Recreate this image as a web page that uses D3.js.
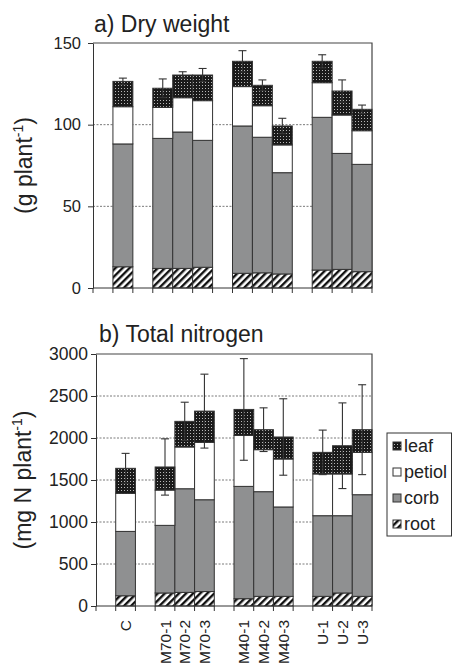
<!DOCTYPE html>
<html>
<head>
<meta charset="utf-8">
<script src="https://cdn.jsdelivr.net/npm/d3@7"></script>
<style>
  body { margin: 0; background: #fff; }
  svg { display: block; font-family: "Liberation Sans", Arial, sans-serif; }
  .tick text { fill: #222; }
  .axis path, .axis line { stroke: #333; }
</style>
</head>
<body>
<script>
// treatments, grouped (a blank slot separates groups)
var groups = [["C"], ["M70-1", "M70-2", "M70-3"], ["M40-1", "M40-2", "M40-3"], ["U-1", "U-2", "U-3"]];
var parts = ["root", "corb", "petiol", "leaf"];

// a) dry weight, g plant-1 (per component)
var dwRoot   = [13.0, 12.0, 12.0, 12.7, 9.0, 9.3, 8.6, 11.0, 11.4, 10.0];
var dwCorb   = [75.2, 79.6, 83.5, 77.7, 90.2, 83.0, 62.0, 93.5, 71.0, 65.7];
var dwPetiol = [22.8, 19.0, 21.0, 24.3, 24.1, 19.3, 17.0, 21.2, 23.5, 20.6];
var dwLeaf   = [15.5, 11.7, 13.9, 15.7, 15.5, 12.5, 11.6, 13.1, 14.7, 13.1];
var dwSd     = [2.0, 5.7, 2.0, 4.0, 6.5, 3.3, 4.7, 4.0, 6.8, 2.6];

// b) total nitrogen, mg N plant-1 (per component)
var tnRoot   = [122, 155, 162, 172, 87, 115, 115, 115, 155, 115];
var tnCorb   = [766, 805, 1234, 1093, 1337, 1246, 1064, 960, 920, 1210];
var tnPetiol = [453, 420, 497, 683, 607, 500, 571, 497, 497, 504];
var tnLeaf   = [298, 275, 305, 372, 309, 238, 262, 257, 336, 270];
var tnSd     = [178, 335, 228, 440, 605, 260, 455, 265, 510, 535];

var dwTicks = [0, 50, 100, 150];
var tnTicks = [0, 500, 1000, 1500, 2000, 2500, 3000];

var W = 452, H = 668;
var svg = d3.select("body").append("svg").attr("width", W).attr("height", H);

// fills
var defs = svg.append("defs");
var lp = defs.append("pattern").attr("id", "leafPat")
    .attr("patternUnits", "userSpaceOnUse").attr("width", 3).attr("height", 3);
lp.append("rect").attr("width", 3).attr("height", 3).attr("fill", "#1a1a1a");
lp.append("rect").attr("x", 1).attr("y", 1).attr("width", 1).attr("height", 1).attr("fill", "#b8b8b8");

var rp = defs.append("pattern").attr("id", "rootPat")
    .attr("patternUnits", "userSpaceOnUse").attr("width", 5).attr("height", 5)
    .attr("patternTransform", "rotate(45)");
rp.append("rect").attr("width", 5).attr("height", 5).attr("fill", "#fff");
rp.append("rect").attr("width", 2.4).attr("height", 5).attr("fill", "#111");

var fills = {root: "url(#rootPat)", corb: "#8f9091", petiol: "#fff", leaf: "url(#leafPat)"};

// slot layout with blanks
var slots = [];
groups.forEach(function(g, i) {
  slots.push("blank" + i);
  g.forEach(function(c) { slots.push(c); });
});
var cats = [].concat.apply([], groups);

function makeRows(root, corb, petiol, leaf, sd) {
  return cats.map(function(c, i) {
    return {cat: c, root: root[i], corb: corb[i], petiol: petiol[i], leaf: leaf[i], sd: sd[i]};
  });
}

function panel(opt) {
  var x = d3.scaleBand().domain(slots).range([opt.left, 372]).padding(0);
  var y = d3.scaleLinear().domain([0, opt.max]).range([opt.bottom, opt.top]);
  var g = svg.append("g");

  // dotted grid
  g.selectAll(".grid").data(opt.ticks.slice(1, -1)).enter().append("line")
    .attr("x1", opt.left).attr("x2", 372)
    .attr("y1", function(d) { return y(d); }).attr("y2", function(d) { return y(d); })
    .attr("stroke", "#7a7a7a").attr("stroke-dasharray", "2,1.5").attr("stroke-width", 1);

  // frame top + right
  g.append("path")
    .attr("d", "M" + opt.left + "," + opt.top + "H372V" + opt.bottom)
    .attr("fill", "none").attr("stroke", "#444").attr("stroke-width", 1.2);

  // bars
  var stack = d3.stack().keys(parts)(opt.rows);
  g.selectAll(".layer").data(stack).enter().append("g")
    .attr("fill", function(d) { return fills[d.key]; })
    .selectAll("rect").data(function(d) { return d; }).enter().append("rect")
      .attr("x", function(d) { return x(d.data.cat); })
      .attr("width", x.bandwidth())
      .attr("y", function(d) { return y(d[1]); })
      .attr("height", function(d) { return y(d[0]) - y(d[1]); })
      .attr("stroke", "#333").attr("stroke-width", 1);

  // error bars
  var eb = g.selectAll(".err").data(opt.rows).enter().append("g")
    .attr("stroke", "#333").attr("stroke-width", 1.1);
  function tot(d) { return d.root + d.corb + d.petiol + d.leaf; }
  function cx(d) { return x(d.cat) + x.bandwidth() / 2; }
  eb.append("line")
    .attr("x1", cx).attr("x2", cx)
    .attr("y1", function(d) { return y(tot(d) + d.sd); })
    .attr("y2", function(d) { return y(tot(d) - d.sd); });
  [1, -1].forEach(function(s) {
    eb.append("line")
      .attr("x1", function(d) { return cx(d) - 4; }).attr("x2", function(d) { return cx(d) + 4; })
      .attr("y1", function(d) { return y(tot(d) + s * d.sd); })
      .attr("y2", function(d) { return y(tot(d) + s * d.sd); });
  });

  // y axis
  g.append("g").attr("class", "axis")
    .attr("transform", "translate(" + opt.left + ",0)")
    .call(d3.axisLeft(y).tickValues(opt.ticks).tickFormat(d3.format("d"))
      .tickSize(5).tickSizeOuter(0).tickPadding(opt.pad))
    .selectAll(".tick text").attr("font-size", opt.tickFont);

  // x baseline with slot ticks below
  g.append("line").attr("x1", opt.left).attr("x2", 372)
    .attr("y1", opt.bottom).attr("y2", opt.bottom).attr("stroke", "#333");
  g.selectAll(".xt").data(d3.range(slots.length + 1)).enter().append("line")
    .attr("x1", function(i) { return opt.left + i * x.step(); })
    .attr("x2", function(i) { return opt.left + i * x.step(); })
    .attr("y1", opt.bottom).attr("y2", opt.bottom + 5)
    .attr("stroke", "#333");

  // title
  g.append("text").attr("x", opt.titleX).attr("y", opt.titleY)
    .attr("font-size", 23).attr("fill", "#222").text(opt.title);

  // y label
  var yl = g.append("text")
    .attr("transform", "translate(" + opt.labelX + "," + ((opt.top + opt.bottom) / 2) + ") rotate(-90)")
    .attr("text-anchor", "middle").attr("font-size", 23).attr("fill", "#222");
  yl.append("tspan").text(opt.unit);
  yl.append("tspan").attr("font-size", 14).attr("dy", -9).text("-1");
  yl.append("tspan").attr("dy", 9).text(")");

  return x;
}

panel({
  rows: makeRows(dwRoot, dwCorb, dwPetiol, dwLeaf, dwSd),
  left: 93, top: 43, bottom: 288, max: 150, ticks: dwTicks, pad: 7, tickFont: 16.5,
  title: "a) Dry weight", titleX: 94, titleY: 32, unit: "(g plant", labelX: 32
});

var xb = panel({
  rows: makeRows(tnRoot, tnCorb, tnPetiol, tnLeaf, tnSd),
  left: 96, top: 354, bottom: 606, max: 3000, ticks: tnTicks, pad: 3, tickFont: 17.5,
  title: "b) Total nitrogen", titleX: 99, titleY: 342, unit: "(mg N plant", labelX: 31
});

// category labels under panel b
svg.selectAll(".cat").data(cats).enter().append("text")
  .attr("transform", function(d) {
    return "translate(" + (xb(d) + xb.bandwidth() / 2) + ",620) rotate(-90)";
  })
  .attr("text-anchor", "end").attr("dy", "0.36em")
  .attr("font-size", 15.5).attr("fill", "#222")
  .text(function(d) { return d; });

// legend
var legendKeys = ["leaf", "petiol", "corb", "root"];
var lg = svg.append("g");
lg.append("rect").attr("x", 387).attr("y", 433).attr("width", 64.5).attr("height", 103)
  .attr("fill", "#fff").attr("stroke", "#333");
var li = lg.selectAll(".li").data(legendKeys).enter().append("g")
  .attr("transform", function(d, i) { return "translate(393," + (446 + i * 26) + ")"; });
li.append("rect").attr("x", 0).attr("y", -4).attr("width", 8).attr("height", 8)
  .attr("fill", function(d) { return fills[d]; }).attr("stroke", "#333");
li.append("text").attr("x", 11).attr("dy", "0.36em")
  .attr("font-size", 18).attr("fill", "#222").text(function(d) { return d; });
</script>
</body>
</html>
